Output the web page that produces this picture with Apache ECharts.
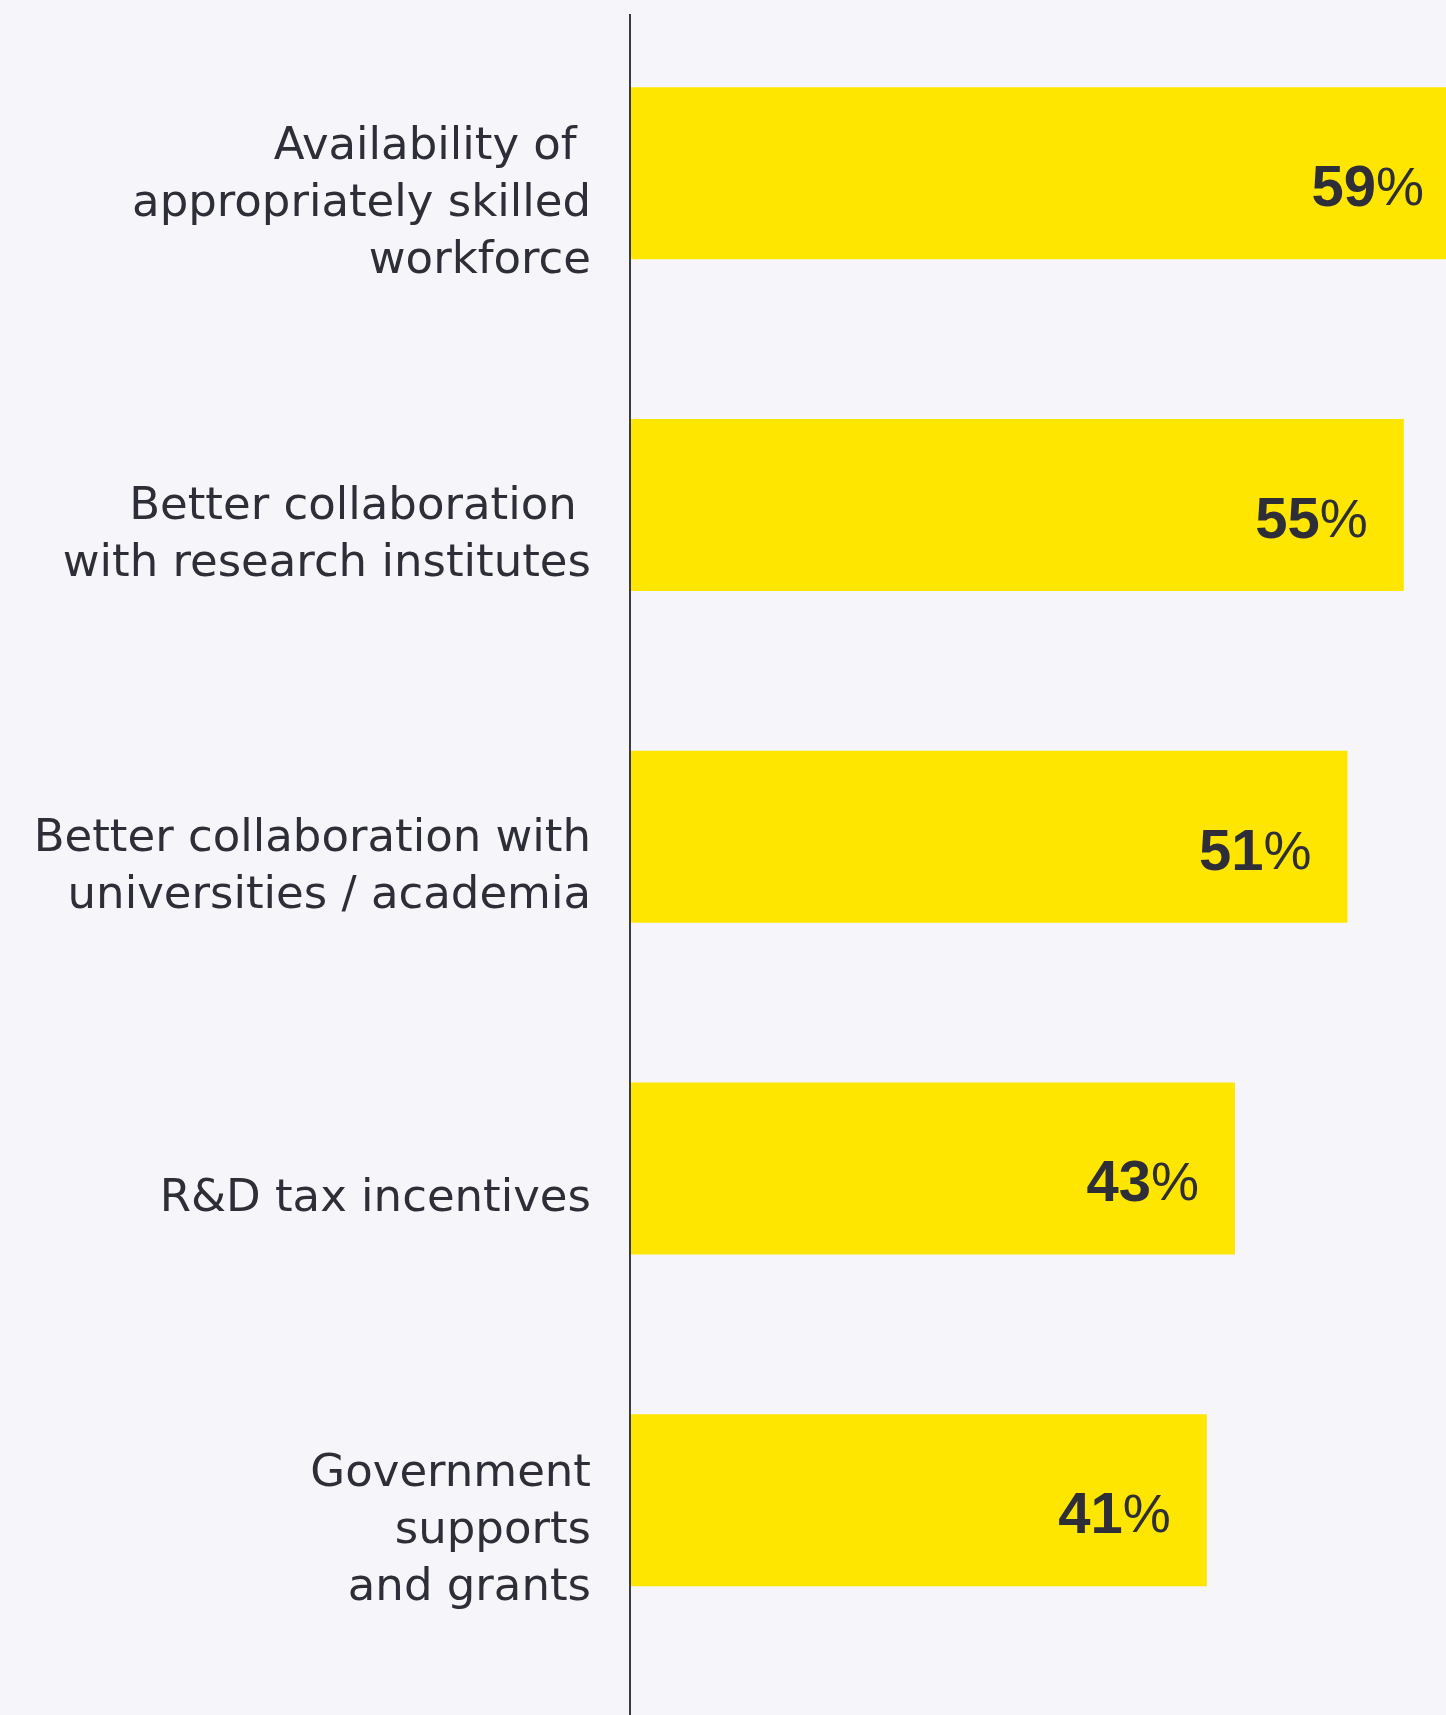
<!DOCTYPE html>
<html>
<head>
<meta charset="utf-8">
<script src="https://cdn.jsdelivr.net/npm/echarts@6/dist/echarts.min.js"></script>
<style>
html,body{margin:0;padding:0;background:#f6f6fa;}
#chart{width:1446px;height:1715px;}
</style>
</head>
<body>
<div id="chart"></div>
<script>
const categories = [
  "Availability of \nappropriately skilled\nworkforce",
  "Better collaboration \nwith research institutes",
  "Better collaboration with\nuniversities / academia",
  "R&D tax incentives",
  "Government\nsupports\nand grants"
];
const values = [59, 55, 51, 43, 41];

const chart = echarts.init(document.getElementById('chart'), null, {renderer: 'canvas'});
const GRID_LEFT = 630;
chart.setOption({
  backgroundColor: '#f6f6fa',
  animation: false,
  grid: {left: GRID_LEFT, right: 0, top: 7.5, bottom: 49, containLabel: false},
  xAxis: {
    type: 'value', min: 0, max: 58,
    show: false
  },
  yAxis: {
    type: 'category', data: categories, inverse: true,
    axisLine: {show: false},
    axisTick: {show: false},
    axisLabel: {
      margin: 39,
      align: 'right',
      color: '#2e2e38',
      fontFamily: 'DejaVu Sans',
      fontSize: 45,
      lineHeight: 57,
      formatter: v => '{s|}\n' + v,
      rich: {
        s: {height: 62, lineHeight: 62, fontSize: 10}
      }
    }
  },
  series: [{
    type: 'bar',
    data: values,
    barWidth: 172,
    clip: false,
    itemStyle: {color: '#ffe600'},
    label: {
      show: true,
      position: 'insideRight',
      distance: 36,
      formatter: p => '{b|' + p.value + '}{p|%}',
      padding: [34, 0, 0, 0],
      rich: {
        b: {fontFamily: 'Liberation Sans', fontWeight: 'bold', fontSize: 58, color: '#2e2e38'},
        p: {fontFamily: 'Liberation Sans', fontWeight: 'normal', fontSize: 54, color: '#2e2e38'}
      }
    }
  }],
  graphic: [{
    type: 'line',
    shape: {x1: GRID_LEFT, y1: 14, x2: GRID_LEFT, y2: 1715},
    style: {stroke: '#3a3a44', lineWidth: 2},
    z: 100
  }]
});
</script>
</body>
</html>
